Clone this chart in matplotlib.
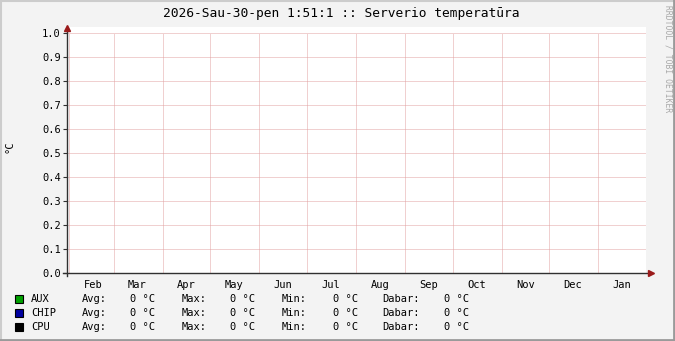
import datetime as dt
import numpy as np
import matplotlib
matplotlib.use("Agg")
import matplotlib.pyplot as plt
import matplotlib.dates as mdates
from matplotlib.patches import Rectangle
from matplotlib.lines import Line2D

# data
title = "2026-Sau-30-pen 1:51:1 :: Serverio temperatūra"
t_start = dt.datetime(2025, 1, 30, 12, 0)
t_end = dt.datetime(2026, 1, 31, 1, 51)
sample_dates = ["2025-02-01", "2025-03-01", "2025-04-01", "2025-05-01", "2025-06-01", "2025-07-01",
                "2025-08-01", "2025-09-01", "2025-10-01", "2025-11-01", "2025-12-01", "2026-01-01",
                "2026-01-30"]
series_names = ["AUX", "CHIP", "CPU"]
series_colors = ["#00A000", "#0000A0", "#000000"]
aux = [0, 0, 0, 0, 0, 0, 0, 0, 0, 0, 0, 0, 0]
chip = [0, 0, 0, 0, 0, 0, 0, 0, 0, 0, 0, 0, 0]
cpu = [0, 0, 0, 0, 0, 0, 0, 0, 0, 0, 0, 0, 0]
avg_vals = [0, 0, 0]
max_vals = [0, 0, 0]
min_vals = [0, 0, 0]
cur_vals = [0, 0, 0]
y_ticks = [0.0, 0.1, 0.2, 0.3, 0.4, 0.5, 0.6, 0.7, 0.8, 0.9, 1.0]

W, H = 675, 341
mono = "DejaVu Sans Mono"
fig = plt.figure(figsize=(W / 100, H / 100), dpi=100, facecolor="#F3F3F3")

def fx(px):
    return px / W

def fy(py):
    return 1 - py / H

# plot area (white canvas goes a little above 1.0)
x0, x1, ytop, ybot = 67, 646, 27, 273
ax = fig.add_axes([fx(x0), fy(ybot), fx(x1) - fx(x0), fy(ytop) - fy(ybot)])
ax.set_facecolor("white")
ymax = (ybot - ytop) / (ybot - 33)
ax.set_ylim(0, ymax)
ax.set_xlim(t_start, t_end)
for s in ax.spines.values():
    s.set_visible(False)

grid_c = "#E2A2A2"
dots = (0, (1, 1))
for v in y_ticks[1:]:
    ax.axhline(v, color=grid_c, linestyle=dots, linewidth=0.72, zorder=1, snap=True)
month_starts = mdates.MonthLocator(bymonthday=1).tick_values(t_start, t_end)
month_starts = [m for m in month_starts if mdates.date2num(t_start) < m < mdates.date2num(t_end)]
for m in month_starts:
    ax.plot([m, m], [0, 1.0], color=grid_c, linestyle=dots, linewidth=0.72, zorder=1, snap=True)

dates = [dt.datetime.strptime(d, "%Y-%m-%d") for d in sample_dates]
for vals, c in zip([aux, chip, cpu], series_colors):
    ax.plot(dates, vals, color=c, linewidth=0.72, zorder=2, snap=True)

# axes with arrows
ax_c = "#303030"
arrow_c = "#9A1A1A"
ax.add_line(Line2D([-4 / 579, 1 + 4 / 579], [0, 0], transform=ax.transAxes, color=ax_c,
                   linewidth=1, clip_on=False, zorder=3, snap=True))
ax.add_line(Line2D([0, 0], [-3 / 246, 1 - 2 / 246], transform=ax.transAxes, color=ax_c,
                   linewidth=1, clip_on=False, zorder=3, snap=True))
ax.plot([1 + 5 / 579], [0], marker=">", markersize=4, color=arrow_c, transform=ax.transAxes,
        clip_on=False, zorder=4)
ax.plot([0], [1 - 1 / 246], marker="^", markersize=4, color=arrow_c, transform=ax.transAxes,
        clip_on=False, zorder=4)

ax.set_yticks(y_ticks)
ax.set_yticklabels(["%.1f" % v for v in y_ticks], fontfamily=mono, fontsize=7.5)
ax.tick_params(axis="y", length=3, width=0.8, color=ax_c, pad=1.5, labelcolor="black")

ax.xaxis.set_major_locator(mdates.MonthLocator(bymonthday=16))
ax.xaxis.set_major_formatter(mdates.DateFormatter("%b"))
ax.tick_params(axis="x", length=0, pad=5)
for lbl in ax.get_xticklabels():
    lbl.set_fontfamily(mono)
    lbl.set_fontsize(7.5)

# titles
fig.text(fx(341), fy(14), title, ha="center", va="center", fontfamily=mono, fontsize=9.3)
fig.text(fx(9), fy(147), "°C", ha="center", va="center", rotation=90, fontfamily=mono, fontsize=7.5)
fig.text(fx(668), fy(5), "RRDTOOL / TOBI OETIKER", ha="center", va="top", rotation=270,
         fontfamily=mono, fontsize=5.8, color="#A8A8A8")

# legend
rows_y = [299, 313, 327]
for i, name in enumerate(series_names):
    y = rows_y[i]
    fig.patches.append(Rectangle((fx(15), fy(y + 4)), 8 / W, 8 / H, transform=fig.transFigure,
                                 facecolor=series_colors[i], edgecolor="black", linewidth=0.8))
    kw = dict(va="center", fontfamily=mono, fontsize=7.5)
    fig.text(fx(31), fy(y), name, **kw)
    fig.text(fx(82), fy(y), "Avg:", **kw)
    fig.text(fx(130), fy(y), "%d °C" % avg_vals[i], **kw)
    fig.text(fx(182), fy(y), "Max:", **kw)
    fig.text(fx(230), fy(y), "%d °C" % max_vals[i], **kw)
    fig.text(fx(282), fy(y), "Min:", **kw)
    fig.text(fx(333), fy(y), "%d °C" % min_vals[i], **kw)
    fig.text(fx(382), fy(y), "Dabar:", **kw)
    fig.text(fx(444), fy(y), "%d °C" % cur_vals[i], **kw)

# frame around the image
fig.add_artist(Line2D([0, 1], [1 - 1 / H, 1 - 1 / H], transform=fig.transFigure, color="#CCCCCC", linewidth=1.5))
fig.add_artist(Line2D([1 / W, 1 / W], [0, 1], transform=fig.transFigure, color="#CCCCCC", linewidth=1.5))
fig.add_artist(Line2D([0, 1], [1 / H, 1 / H], transform=fig.transFigure, color="#9A9A9A", linewidth=2))
fig.add_artist(Line2D([1 - 1 / W, 1 - 1 / W], [0, 1], transform=fig.transFigure, color="#9A9A9A", linewidth=2))

fig.savefig("out.png", dpi=100, facecolor=fig.get_facecolor())
